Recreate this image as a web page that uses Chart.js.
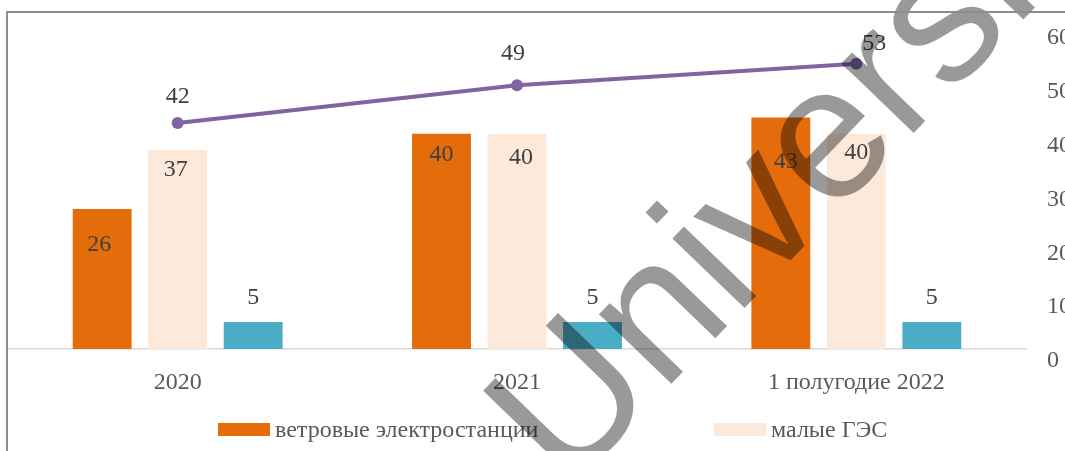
<!DOCTYPE html>
<html><head><meta charset="utf-8">
<script src="https://cdn.jsdelivr.net/npm/chart.js@4/dist/chart.umd.min.js"></script>
<style>
html,body{margin:0;padding:0;background:#fff;overflow:hidden;width:1065px;height:451px;}
#wrap{position:absolute;left:0;top:0;width:1120px;height:451px;}
#frame{position:absolute;left:6px;top:11px;width:1200px;height:600px;border-left:2px solid #8c8c8c;border-top:2px solid #8c8c8c;pointer-events:none;}
</style></head>
<body>
<div id="wrap"><canvas id="c" width="1120" height="451"></canvas></div>
<div id="frame"></div>
<script>
const categories = ['2020', '2021', '1 полугодие 2022'];
const seriesNames = ['ветровые электростанции', 'малые ГЭС', 'солнечные электростанции', 'всего'];
const windValues = [26, 40, 43];
const hydroValues = [37, 40, 40];
const solarValues = [5, 5, 5];
const totalValues = [42, 49, 53];
const axisTicks = [0, 10, 20, 30, 40, 50, 60];

const labelStyle = {
  0: {dx: [-3, 0, 5], dy: [36, 21, 44]},
  1: {dx: [-2, 4, 0], dy: [20, 24, 19]},
  2: {dx: [0, 0, 0], dy: [-24, -24, -24]},
  3: {dx: [0, -4, 18], dy: [-26, -32, -20]}
};
const FONT = '"Liberation Serif", "Times New Roman", serif';

const labelsPlugin = {
  id: 'valueLabels',
  afterDatasetsDraw(chart) {
    const ctx = chart.ctx;
    ctx.save();
    ctx.font = '24px ' + FONT;
    ctx.fillStyle = '#404040';
    ctx.textAlign = 'center';
    ctx.textBaseline = 'middle';
    chart.data.datasets.forEach((ds, di) => {
      const meta = chart.getDatasetMeta(di);
      const st = labelStyle[di];
      meta.data.forEach((el, i) => {
        ctx.fillText(String(ds.data[i]), el.x + st.dx[i], el.y + st.dy[i]);
      });
    });
    // legend (visible part)
    ctx.font = '24px ' + FONT;
    ctx.textAlign = 'left';
    const legendX = [218, 714];
    [0, 1].forEach((di, k) => {
      const ds = chart.data.datasets[di];
      ctx.fillStyle = ds.backgroundColor;
      ctx.fillRect(legendX[k], 423, 52, 13);
      ctx.fillStyle = '#595959';
      ctx.fillText(ds.label, legendX[k] + 57, 431);
    });
    ctx.restore();
  },
  afterDraw(chart) {
    const ctx = chart.ctx;
    ctx.save();
    ctx.translate(567, 492);
    ctx.rotate(-46 * Math.PI / 180);
    ctx.font = '190px "Liberation Sans", Arial, sans-serif';
    ctx.fillStyle = 'rgba(0,0,0,0.4)';
    ctx.textBaseline = 'alphabetic';
    ctx.textAlign = 'left';
    ctx.fillText('Universi', 0, 0);
    ctx.restore();
  }
};

new Chart(document.getElementById('c'), {
  data: {
    labels: categories,
    datasets: [
      {type: 'bar', label: seriesNames[0], data: windValues, backgroundColor: '#E46C0A', categoryPercentage: 0.6675, barPercentage: 0.78, order: 2},
      {type: 'bar', label: seriesNames[1], data: hydroValues, backgroundColor: '#FDE9D9', categoryPercentage: 0.6675, barPercentage: 0.78, order: 2},
      {type: 'bar', label: seriesNames[2], data: solarValues, backgroundColor: '#4BACC6', categoryPercentage: 0.6675, barPercentage: 0.78, order: 2},
      {type: 'line', label: seriesNames[3], data: totalValues, borderColor: '#8064A2', backgroundColor: '#8064A2', borderWidth: 4, pointRadius: 6, pointHoverRadius: 6, pointBackgroundColor: '#8064A2', pointBorderWidth: 0, tension: 0, order: 1}
    ]
  },
  options: {
    responsive: false,
    animation: false,
    events: [],
    layout: {padding: {left: 8, top: 26, right: 0, bottom: 0}},
    plugins: {legend: {display: false}, tooltip: {enabled: false}},
    scales: {
      x: {
        grid: {display: false, drawTicks: false},
        border: {display: true, color: '#D9D9D9', width: 1.5},
        ticks: {padding: 19, color: '#595959', font: {family: FONT, size: 24}, maxRotation: 0},
        afterFit(s) { s.height = 102; }
      },
      y: {
        position: 'right',
        min: 0, max: 60,
        afterBuildTicks(s) { s.ticks = axisTicks.map(v => ({value: v})); },
        grid: {display: false, drawTicks: false},
        border: {display: false},
        ticks: {padding: 21, color: '#595959', font: {family: FONT, size: 24}, align: 'start'},
        afterFit(s) { s.width = 94; }
      }
    }
  },
  plugins: [labelsPlugin]
});
</script>
</body></html>
